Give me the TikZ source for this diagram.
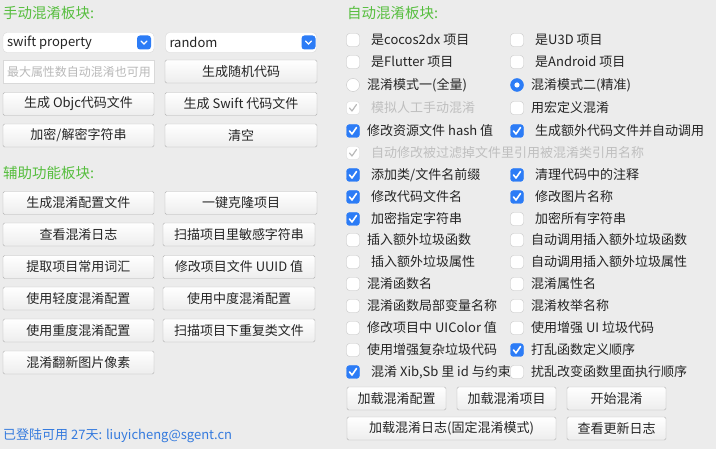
\documentclass[tikz,border=0pt]{standalone}
\usepackage{fontspec}
\newfontfamily\cjk{Noto Sans CJK SC}
\usepackage{tikz}
\usetikzlibrary{calc}
\definecolor{winbg}{RGB}{236,236,236}
\definecolor{titlegreen}{RGB}{86,190,62}
\definecolor{macblue}{RGB}{44,124,246}
\definecolor{linkblue}{RGB}{52,122,222}
\definecolor{ink}{RGB}{36,36,36}
\tikzset{
  ui/.style={font=\cjk\fontsize{13}{15}\selectfont, text=ink},
  paneltitle/.style={font=\cjk\fontsize{14.5}{16}\selectfont, text=titlegreen, anchor=west, inner sep=0},
  btn/.style={ui, draw=gray!60, rounded corners=1.5pt, top color=white, bottom color=gray!14, minimum height=23pt, inner sep=0},
  popup/.style={draw=gray!30, fill=white, rounded corners=4pt, minimum height=20pt, minimum width=151pt, inner sep=0},
  chev/.style={fill=macblue, rounded corners=3pt, minimum size=14pt, inner sep=0},
  field/.style={draw=gray!30, fill=white, minimum height=23pt, minimum width=151pt, inner sep=0},
  boxoff/.style={draw=gray!45, fill=white, rounded corners=3pt, minimum size=13pt, inner sep=0},
  boxon/.style={draw=macblue, fill=macblue, rounded corners=3pt, minimum size=13pt, inner sep=0},
  boxdis/.style={draw=gray!28, fill=white, rounded corners=3pt, minimum size=13pt, inner sep=0},
  lbl/.style={ui, anchor=west, inner sep=0},
  tick/.style={white, line width=1.6pt, line cap=round, line join=round},
}
\def\gap{\hspace*{4pt}}
% check boxes: name, x, y, label
\def\cboxoff#1#2#3#4{\node[boxoff] (#1) at (#2,#3) {};
  \node[lbl] (#1t) at ($(#1.center)+(14,0)$) {#4};}
\def\cboxon#1#2#3#4{\node[boxon] (#1) at (#2,#3) {};
  \draw[tick] ($(#1.center)+(-3.5,0)$) -- ++(2.5,3) -- ++(4.5,-6.5);
  \node[lbl] (#1t) at ($(#1.center)+(14,0)$) {#4};}
\def\cboxdis#1#2#3#4{\node[boxdis] (#1) at (#2,#3) {};
  \draw[tick, gray!55, line width=1.2pt] ($(#1.center)+(-3.5,0)$) -- ++(2.5,3) -- ++(4.5,-6.5);
  \node[lbl, text=gray!50] (#1t) at ($(#1.center)+(14,0)$) {#4};}
\def\radiooff#1#2#3#4{\node[boxoff, circle] (#1) at (#2,#3) {};
  \node[lbl] (#1t) at ($(#1.center)+(14,0)$) {#4};}
\def\radioon#1#2#3#4{\node[boxon, circle] (#1) at (#2,#3) {};
  \fill[white] (#1.center) circle (2.6);
  \node[lbl] (#1t) at ($(#1.center)+(14,0)$) {#4};}

\begin{document}
\begin{tikzpicture}[x=1pt,y=-1pt]
\useasboundingbox (0,0) rectangle (716,449);
\fill[winbg] (0,0) rectangle (716,449);

% ---------- manual panel
\node[paneltitle] (manual_title) at (3,13) {手动混淆板块:};
\node[popup] (kind) at (78.5,42.5) {};
\node[lbl] (kind_t) at ($(kind.west)+(4,0)$) {swift property};
\node[chev] (kind_chev) at (144,42.5) {};
\draw[white, line width=1.3pt, line cap=round] ($(kind_chev.center)+(-3,-1.5)$) -- ++(3,3) -- ++(3,-3);
\node[popup] (mode) at (241,42.5) {};
\node[lbl] (mode_t) at ($(mode.west)+(4,0)$) {random};
\node[chev] (mode_chev) at (308.5,42.5) {};
\draw[white, line width=1.3pt, line cap=round] ($(mode_chev.center)+(-3,-1.5)$) -- ++(3,3) -- ++(3,-3);
\node[field] (maxprop) at (78.5,71.5) {};
\node[lbl, text=gray!55, font=\cjk\fontsize{12}{14}\selectfont] (maxprop_t) at ($(maxprop.west)+(4,0)$) {最大属性数自动混淆也可用};
\node[btn, minimum width=152pt] (gen_random) at (241,71.5) {生成随机代码};
\node[btn, minimum width=151pt] (gen_objc) at (78.5,104) {生成 Objc代码文件};
\node[btn, minimum width=152pt] (gen_swift) at (241,104) {生成 Swift 代码文件};
\node[btn, minimum width=151pt] (crypt) at (78.5,135.5) {加密/解密字符串};
\node[btn, minimum width=152pt] (clear) at (241,135.5) {清空};

% ---------- helper panel
\node[paneltitle] (aux_title) at (3,173) {辅助功能板块:};
\node[btn, minimum width=151pt] (gen_conf) at (78.5,203) {生成混淆配置文件};
\node[btn, minimum width=152pt] (clone) at (241,203) {一键克隆项目};
\node[btn, minimum width=151pt] (see_log) at (78.5,234.5) {查看混淆日志};
\node[btn, minimum width=152pt] (scan_str) at (239,234.5) {扫描项目里敏感字符串};
\node[btn, minimum width=151pt] (words) at (78.5,267) {提取项目常用词汇};
\node[btn, minimum width=152pt] (uuid) at (239,267) {修改项目文件 UUID 值};
\node[btn, minimum width=151pt] (light) at (78.5,298.5) {使用轻度混淆配置};
\node[btn, minimum width=152pt] (medium) at (239,298.5) {使用中度混淆配置};
\node[btn, minimum width=151pt] (heavy) at (78.5,330.5) {使用重度混淆配置};
\node[btn, minimum width=152pt] (dupes) at (239,330.5) {扫描项目下重复类文件};
\node[btn, minimum width=151pt] (pixels) at (78.5,362.5) {混淆翻新图片像素};
\node[lbl, text=linkblue] (login) at (3,436) {已登陆可用 27天: liuyicheng@sgent.cn};

% ---------- auto panel, left column x=353, right column x=517
\node[paneltitle] (auto_title) at (347,13) {自动混淆板块:};
\cboxoff{cocos}{353}{40}{\gap 是cocos2dx 项目}
\cboxoff{u3d}{517}{40}{\gap 是U3D 项目}
\cboxoff{flutter}{353}{62}{\gap 是Flutter 项目}
\cboxoff{android}{517}{62}{\gap 是Android 项目}
\radiooff{full}{353}{85}{混淆模式一(全量)}
\radioon{exact}{517}{85}{混淆模式二(精准)}
\cboxdis{manual}{353}{108}{\gap 模拟人工手动混淆}
\cboxoff{macro}{517}{108}{用宏定义混淆}
\cboxon{hash}{353}{131}{修改资源文件 hash 值}
\cboxon{extra}{517}{131}{\gap 生成额外代码文件并自动调用}
\cboxdis{filtered}{353}{153}{\gap 自动修改被过滤掉文件里引用被混淆类引用名称}
\cboxon{prefix}{353}{175}{\gap 添加类/文件名前缀}
\cboxon{comments}{517}{175}{\gap 清理代码中的注释}
\cboxon{rename}{353}{197}{\gap 修改代码文件名}
\cboxon{images}{517}{197}{\gap 修改图片名称}
\cboxon{somestr}{353}{219}{\gap 加密指定字符串}
\cboxoff{allstr}{517}{219}{\gap 加密所有字符串}
\cboxoff{junkfn}{353}{240}{插入额外垃圾函数}
\cboxoff{calljunkfn}{517}{240}{自动调用插入额外垃圾函数}
\cboxoff{junkprop}{353}{262}{\gap 插入额外垃圾属性}
\cboxoff{calljunkprop}{517}{262}{自动调用插入额外垃圾属性}
\cboxoff{fnname}{353}{284}{混淆函数名}
\cboxoff{propname}{517}{284}{混淆属性名}
\cboxoff{localvar}{353}{306}{混淆函数局部变量名称}
\cboxoff{enumname}{517}{306}{混淆枚举名称}
\cboxoff{uicolor}{353}{328}{修改项目中 UIColor 值}
\cboxoff{uijunk}{517}{328}{使用增强 UI 垃圾代码}
\cboxoff{complex}{353}{350}{使用增强复杂垃圾代码}
\cboxon{shuffle}{517}{350}{打乱函数定义顺序}
\cboxon{xib}{353}{372}{\gap 混淆 Xib,Sb 里 id 与约束}
\cboxoff{reorder}{517}{372}{扰乱改变函数里面执行顺序}

% ---------- bottom buttons
\node[btn, minimum width=99pt] (load_conf) at (396.5,398.5) {加载混淆配置};
\node[btn, minimum width=99pt] (load_proj) at (506.5,398.5) {加载混淆项目};
\node[btn, minimum width=99pt] (start) at (616.5,398.5) {开始混淆};
\node[btn, minimum width=209pt] (load_log) at (451.5,428.5) {加载混淆日志(固定混淆模式)};
\node[btn, minimum width=99pt] (changelog) at (616.5,428.5) {查看更新日志};
\end{tikzpicture}
\end{document}
